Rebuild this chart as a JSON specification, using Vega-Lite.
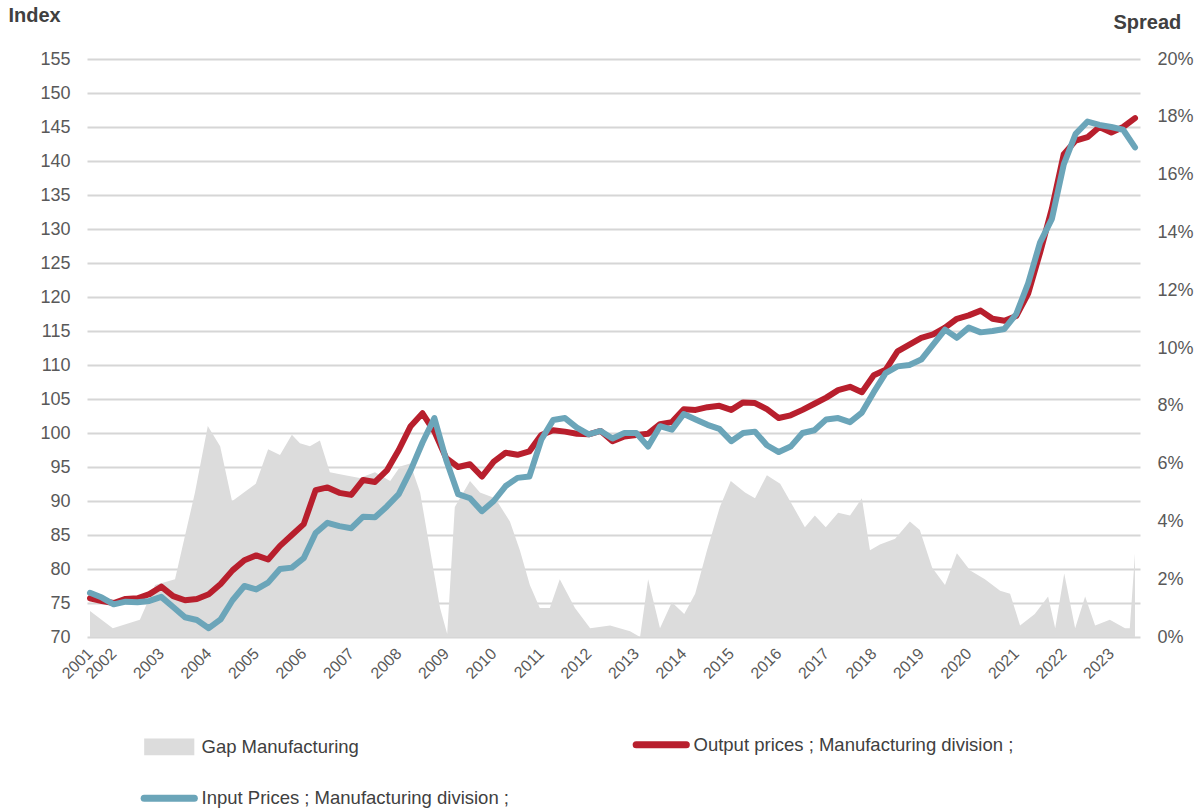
{
  "$schema": "https://vega.github.io/schema/vega-lite/v6.json",
  "width": 1053,
  "height": 578,
  "autosize": {"type": "none"},
  "padding": {"left": 87, "top": 59, "right": 61, "bottom": 174},
  "background": "white",
  "config": {
    "view": {"stroke": null},
    "font": "Liberation Sans",
    "axis": {"labelColor": "#595959", "titleColor": "#404040", "labelFont": "Liberation Sans", "titleFont": "Liberation Sans"},
    "legend": {"labelFont": "Liberation Sans"}
  },
  "datasets": {
    "prices": [
      {"t": 2001.5, "output": 75.7, "input": 76.5},
      {"t": 2001.75, "output": 75.3, "input": 75.8},
      {"t": 2002.0, "output": 75.0, "input": 74.8},
      {"t": 2002.25, "output": 75.6, "input": 75.2},
      {"t": 2002.5, "output": 75.7, "input": 75.1},
      {"t": 2002.75, "output": 76.3, "input": 75.3},
      {"t": 2003.0, "output": 77.4, "input": 75.9},
      {"t": 2003.25, "output": 76.0, "input": 74.4},
      {"t": 2003.5, "output": 75.4, "input": 72.9},
      {"t": 2003.75, "output": 75.6, "input": 72.5},
      {"t": 2004.0, "output": 76.3, "input": 71.3},
      {"t": 2004.25, "output": 77.8, "input": 72.6},
      {"t": 2004.5, "output": 79.8, "input": 75.4},
      {"t": 2004.75, "output": 81.3, "input": 77.5},
      {"t": 2005.0, "output": 82.0, "input": 77.0},
      {"t": 2005.25, "output": 81.4, "input": 78.0},
      {"t": 2005.5, "output": 83.4, "input": 80.0},
      {"t": 2005.75, "output": 85.0, "input": 80.2},
      {"t": 2006.0, "output": 86.6, "input": 81.6},
      {"t": 2006.25, "output": 91.6, "input": 85.3},
      {"t": 2006.5, "output": 92.0, "input": 86.8},
      {"t": 2006.75, "output": 91.2, "input": 86.3},
      {"t": 2007.0, "output": 90.9, "input": 86.0},
      {"t": 2007.25, "output": 93.1, "input": 87.7},
      {"t": 2007.5, "output": 92.8, "input": 87.6},
      {"t": 2007.75, "output": 94.5, "input": 89.2},
      {"t": 2008.0, "output": 97.5, "input": 91.0},
      {"t": 2008.25, "output": 101.0, "input": 94.5},
      {"t": 2008.5, "output": 102.9, "input": 98.6},
      {"t": 2008.75, "output": 100.2, "input": 102.2},
      {"t": 2009.0, "output": 96.3, "input": 96.0},
      {"t": 2009.25, "output": 95.0, "input": 91.0},
      {"t": 2009.5, "output": 95.4, "input": 90.4},
      {"t": 2009.75, "output": 93.6, "input": 88.5},
      {"t": 2010.0, "output": 95.8, "input": 90.0},
      {"t": 2010.25, "output": 97.1, "input": 92.2},
      {"t": 2010.5, "output": 96.8, "input": 93.4},
      {"t": 2010.75, "output": 97.3, "input": 93.6},
      {"t": 2011.0, "output": 99.7, "input": 99.0},
      {"t": 2011.25, "output": 100.4, "input": 101.9},
      {"t": 2011.5, "output": 100.2, "input": 102.2},
      {"t": 2011.75, "output": 99.9, "input": 100.8},
      {"t": 2012.0, "output": 99.8, "input": 99.8},
      {"t": 2012.25, "output": 100.3, "input": 100.3},
      {"t": 2012.5, "output": 98.8, "input": 99.2},
      {"t": 2012.75, "output": 99.5, "input": 100.0},
      {"t": 2013.0, "output": 99.7, "input": 100.0},
      {"t": 2013.25, "output": 99.9, "input": 98.0},
      {"t": 2013.5, "output": 101.3, "input": 101.0},
      {"t": 2013.75, "output": 101.6, "input": 100.5},
      {"t": 2014.0, "output": 103.5, "input": 102.8},
      {"t": 2014.25, "output": 103.4, "input": 102.0},
      {"t": 2014.5, "output": 103.8, "input": 101.2},
      {"t": 2014.75, "output": 104.0, "input": 100.6},
      {"t": 2015.0, "output": 103.4, "input": 98.8},
      {"t": 2015.25, "output": 104.5, "input": 100.0},
      {"t": 2015.5, "output": 104.4, "input": 100.2},
      {"t": 2015.75, "output": 103.5, "input": 98.2},
      {"t": 2016.0, "output": 102.2, "input": 97.2},
      {"t": 2016.25, "output": 102.6, "input": 98.0},
      {"t": 2016.5, "output": 103.4, "input": 100.0},
      {"t": 2016.75, "output": 104.3, "input": 100.4},
      {"t": 2017.0, "output": 105.2, "input": 102.0},
      {"t": 2017.25, "output": 106.3, "input": 102.2},
      {"t": 2017.5, "output": 106.8, "input": 101.6},
      {"t": 2017.75, "output": 106.0, "input": 103.0},
      {"t": 2018.0, "output": 108.5, "input": 106.0},
      {"t": 2018.25, "output": 109.3, "input": 108.8},
      {"t": 2018.5, "output": 112.0, "input": 109.8},
      {"t": 2018.75, "output": 113.0, "input": 110.0},
      {"t": 2019.0, "output": 114.0, "input": 110.8},
      {"t": 2019.25, "output": 114.5, "input": 113.0},
      {"t": 2019.5, "output": 115.5, "input": 115.2},
      {"t": 2019.75, "output": 116.8, "input": 114.0},
      {"t": 2020.0, "output": 117.3, "input": 115.5},
      {"t": 2020.25, "output": 118.0, "input": 114.8},
      {"t": 2020.5, "output": 116.8, "input": 115.0},
      {"t": 2020.75, "output": 116.5, "input": 115.3},
      {"t": 2021.0, "output": 117.2, "input": 117.5},
      {"t": 2021.25, "output": 120.5, "input": 122.0},
      {"t": 2021.5, "output": 126.5, "input": 128.0},
      {"t": 2021.75, "output": 133.0, "input": 131.5},
      {"t": 2022.0, "output": 141.0, "input": 139.5},
      {"t": 2022.25, "output": 143.0, "input": 144.0},
      {"t": 2022.5, "output": 143.5, "input": 145.8},
      {"t": 2022.75, "output": 145.0, "input": 145.3},
      {"t": 2023.0, "output": 144.2, "input": 145.0},
      {"t": 2023.25, "output": 145.0, "input": 144.6},
      {"t": 2023.5, "output": 146.3, "input": 142.0}
    ],
    "gap": [
      {"t": 2001.5, "spread": 0.9},
      {"t": 2001.98, "spread": 0.3},
      {"t": 2002.55, "spread": 0.6},
      {"t": 2002.87, "spread": 1.8},
      {"t": 2003.29, "spread": 2.0},
      {"t": 2003.5, "spread": 3.5},
      {"t": 2003.71, "spread": 5.0},
      {"t": 2003.98, "spread": 7.3},
      {"t": 2004.24, "spread": 6.6},
      {"t": 2004.49, "spread": 4.7},
      {"t": 2004.74, "spread": 5.0},
      {"t": 2004.99, "spread": 5.3},
      {"t": 2005.25, "spread": 6.5},
      {"t": 2005.5, "spread": 6.3},
      {"t": 2005.75, "spread": 7.0},
      {"t": 2005.92, "spread": 6.7},
      {"t": 2006.13, "spread": 6.6},
      {"t": 2006.34, "spread": 6.8},
      {"t": 2006.55, "spread": 5.7},
      {"t": 2006.87, "spread": 5.6},
      {"t": 2007.18, "spread": 5.5},
      {"t": 2007.5, "spread": 5.7},
      {"t": 2007.82, "spread": 5.4},
      {"t": 2008.03, "spread": 5.9},
      {"t": 2008.24, "spread": 6.0},
      {"t": 2008.45, "spread": 5.0},
      {"t": 2008.66, "spread": 3.0},
      {"t": 2008.87, "spread": 1.0},
      {"t": 2009.02, "spread": 0.1},
      {"t": 2009.18, "spread": 4.5},
      {"t": 2009.5, "spread": 5.4},
      {"t": 2009.71, "spread": 5.0},
      {"t": 2010.03, "spread": 4.8},
      {"t": 2010.34, "spread": 4.0},
      {"t": 2010.55, "spread": 3.0},
      {"t": 2010.76, "spread": 1.8},
      {"t": 2010.97, "spread": 1.0},
      {"t": 2011.18, "spread": 1.0},
      {"t": 2011.39, "spread": 2.0},
      {"t": 2011.71, "spread": 1.0},
      {"t": 2012.03, "spread": 0.3},
      {"t": 2012.45, "spread": 0.4},
      {"t": 2012.87, "spread": 0.2},
      {"t": 2013.08, "spread": 0.0},
      {"t": 2013.25, "spread": 2.0},
      {"t": 2013.5, "spread": 0.3},
      {"t": 2013.75, "spread": 1.2},
      {"t": 2014.01, "spread": 0.8},
      {"t": 2014.24, "spread": 1.5},
      {"t": 2014.49, "spread": 3.0},
      {"t": 2014.76, "spread": 4.5},
      {"t": 2014.99, "spread": 5.4},
      {"t": 2015.29, "spread": 5.0},
      {"t": 2015.5, "spread": 4.8},
      {"t": 2015.75, "spread": 5.6},
      {"t": 2016.03, "spread": 5.3},
      {"t": 2016.24, "spread": 4.7},
      {"t": 2016.55, "spread": 3.8},
      {"t": 2016.76, "spread": 4.2},
      {"t": 2016.99, "spread": 3.8},
      {"t": 2017.25, "spread": 4.3},
      {"t": 2017.5, "spread": 4.2},
      {"t": 2017.75, "spread": 4.8},
      {"t": 2017.92, "spread": 3.0},
      {"t": 2018.13, "spread": 3.2},
      {"t": 2018.45, "spread": 3.4},
      {"t": 2018.76, "spread": 4.0},
      {"t": 2018.97, "spread": 3.7},
      {"t": 2019.23, "spread": 2.4},
      {"t": 2019.5, "spread": 1.8},
      {"t": 2019.75, "spread": 2.9},
      {"t": 2020.03, "spread": 2.3},
      {"t": 2020.34, "spread": 2.0},
      {"t": 2020.66, "spread": 1.6},
      {"t": 2020.87, "spread": 1.5},
      {"t": 2021.08, "spread": 0.4},
      {"t": 2021.39, "spread": 0.8},
      {"t": 2021.67, "spread": 1.4},
      {"t": 2021.82, "spread": 0.3},
      {"t": 2022.01, "spread": 2.2},
      {"t": 2022.24, "spread": 0.3},
      {"t": 2022.45, "spread": 1.4},
      {"t": 2022.66, "spread": 0.4},
      {"t": 2022.97, "spread": 0.6},
      {"t": 2023.29, "spread": 0.3},
      {"t": 2023.39, "spread": 0.3},
      {"t": 2023.5, "spread": 2.9}
    ]
  },
  "encoding": {
    "x": {
      "field": "t",
      "type": "quantitative",
      "scale": {"domain": [2001.437, 2023.605], "nice": false, "zero": false},
      "axis": {
        "title": null,
        "values": [2001.5, 2002, 2003, 2004, 2005, 2006, 2007, 2008, 2009, 2010, 2011, 2012, 2013, 2014, 2015, 2016, 2017, 2018, 2019, 2020, 2021, 2022, 2023],
        "labelExpr": "floor(datum.value)",
        "labelAngle": -45,
        "labelFontSize": 16,
        "labelPadding": 8,
        "labelOffset": -6,
        "labelOverlap": false,
        "labelBound": false,
        "domain": false,
        "ticks": false,
        "grid": false
      }
    },
    "color": {
      "scale": {
        "domain": ["gap", "output", "input"],
        "range": ["#dcdcdc", "#b81f2d", "#6ba5b9"]
      },
      "legend": {
        "title": null,
        "orient": "none",
        "legendX": 73,
        "legendY": 676,
        "direction": "horizontal",
        "columns": 2,
        "columnPadding": 107,
        "rowPadding": 25,
        "padding": 0,
        "labelFontSize": 18.5,
        "labelColor": "#404040",
        "labelOffset": 23,
        "labelLimit": 500,
        "symbolSize": 3249,
        "labelExpr": "datum.value == 'gap' ? 'Gap Manufacturing' : datum.value == 'output' ? 'Output prices ;  Manufacturing division ;' : 'Input Prices ;  Manufacturing division ;'",
        "encode": {
          "symbols": {
            "update": {
              "shape": {"signal": "datum.value == 'gap' ? 'M-0.88,-0.29H0.88V0.29H-0.88Z' : 'M-0.88,0H0.88'"},
              "fill": {"signal": "datum.value == 'gap' ? '#dcdcdc' : 'transparent'"},
              "stroke": {"signal": "datum.value == 'gap' ? 'transparent' : scale('color', datum.value)"},
              "strokeWidth": {"signal": "datum.value == 'gap' ? 0 : 7"},
              "strokeCap": {"value": "round"},
              "opacity": {"value": 1}
            }
          }
        }
      }
    }
  },
  "layer": [
    {
      "data": {"name": "gap"},
      "mark": {"type": "area", "interpolate": "linear", "opacity": 1},
      "encoding": {
        "y": {
          "field": "spread",
          "type": "quantitative",
          "scale": {"domain": [0, 20], "nice": false},
          "axis": {
            "orient": "right",
            "values": [0, 2, 4, 6, 8, 10, 12, 14, 16, 18, 20],
            "labelExpr": "datum.value + '%'",
            "labelFontSize": 18,
            "labelPadding": 17,
            "labelAlign": "left",
            "domain": false,
            "ticks": false,
            "grid": false,
            "title": "Spread",
            "titleAngle": 0,
            "titleAlign": "left",
            "titleBaseline": "alphabetic",
            "titleX": -27,
            "titleY": -31,
            "titleFontSize": 20,
            "titleFontWeight": "bold"
          }
        },
        "color": {"datum": "gap"}
      }
    },
    {
      "data": {"name": "prices"},
      "transform": [{"fold": ["output", "input"], "as": ["series", "index"]}],
      "mark": {"type": "line", "strokeWidth": 6, "strokeCap": "round", "strokeJoin": "round"},
      "encoding": {
        "y": {
          "field": "index",
          "type": "quantitative",
          "scale": {"domain": [70, 155], "nice": false, "zero": false},
          "axis": {
            "orient": "left",
            "values": [70, 75, 80, 85, 90, 95, 100, 105, 110, 115, 120, 125, 130, 135, 140, 145, 150, 155],
            "labelFontSize": 18,
            "labelPadding": 17,
            "domain": false,
            "ticks": false,
            "grid": true,
            "gridColor": "#d6d6d6",
            "gridWidth": 2,
            "title": "Index",
            "titleAngle": 0,
            "titleAlign": "left",
            "titleBaseline": "alphabetic",
            "titleX": -79,
            "titleY": -38,
            "titleFontSize": 20,
            "titleFontWeight": "bold"
          }
        },
        "color": {"field": "series", "type": "nominal"},
        "order": {"field": "t", "type": "quantitative"}
      }
    }
  ],
  "resolve": {"scale": {"y": "independent"}, "axis": {"y": "independent"}}
}
